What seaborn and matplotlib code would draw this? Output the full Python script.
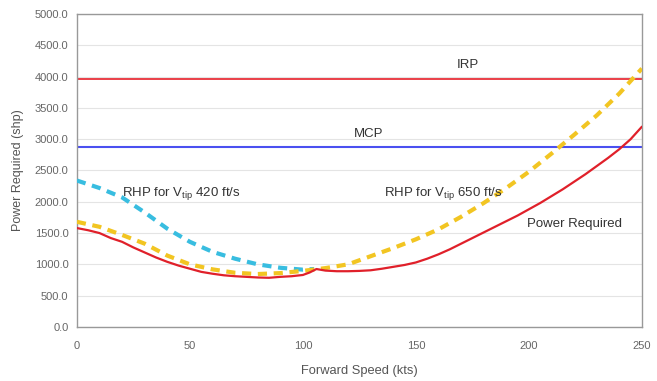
import numpy as np
import pandas as pd
import matplotlib
matplotlib.use('Agg')
import matplotlib.pyplot as plt
import seaborn as sns

# 数据
speed_pr = [0, 5, 10, 15, 20, 25, 30, 35, 40, 45, 50, 55, 60, 65, 70, 75, 80, 85, 90, 95,
            100, 103, 106, 110, 115, 120, 125, 130, 135, 140, 145, 150, 155, 160, 165, 170,
            175, 180, 185, 190, 195, 200, 205, 210, 215, 220, 225, 230, 235, 240, 245, 250]
power_req = [1580, 1545, 1500, 1420, 1360, 1270, 1190, 1110, 1040, 980, 930, 880, 850, 825,
             810, 800, 790, 785, 800, 810, 830, 870, 925, 900, 890, 890, 895, 905, 930, 960,
             990, 1030, 1090, 1160, 1240, 1330, 1420, 1510, 1600, 1690, 1780, 1880, 1980,
             2090, 2200, 2320, 2440, 2570, 2700, 2840, 3000, 3200]

speed_650 = [0, 10, 20, 30, 40, 50, 60, 70, 80, 90, 100, 110, 120, 130, 140, 150, 160, 170,
             180, 190, 200, 210, 220, 230, 240, 250]
rhp_650 = [1680, 1600, 1470, 1330, 1140, 1000, 920, 865, 845, 860, 895, 940, 1000, 1130,
           1260, 1400, 1560, 1760, 1980, 2220, 2480, 2770, 3070, 3380, 3730, 4130]

speed_420 = [0, 10, 20, 30, 40, 50, 60, 70, 80, 90, 100, 105]
rhp_420 = [2340, 2220, 2070, 1830, 1570, 1360, 1200, 1090, 1000, 945, 915, 925]

irp = 3960
mcp = 2880

sns.set_style('white')
plt.rcParams['font.family'] = ['Liberation Sans', 'DejaVu Sans']
plt.rcParams['mathtext.default'] = 'regular'

fig = plt.figure(figsize=(6.57, 3.81), dpi=100)
ax = fig.add_axes([0.117, 0.142, 0.86, 0.821])

ax.axhline(irp, color='#e8303a', linewidth=1.3, zorder=2)
ax.axhline(mcp, color='#4a50f0', linewidth=1.5, zorder=2)

sns.lineplot(x=speed_420, y=rhp_420, ax=ax, color='#38bde0', linewidth=3,
             linestyle=(0, (2.2, 1.6)), zorder=3)
sns.lineplot(x=speed_650, y=rhp_650, ax=ax, color='#f2c522', linewidth=3,
             linestyle=(0, (2.2, 1.6)), zorder=3)
sns.lineplot(x=speed_pr, y=power_req, ax=ax, color='#e0202a', linewidth=1.6, zorder=4)

lab = dict(fontsize=9.5, color='#333333')
ax.text(173, 4090, 'IRP', ha='center', va='bottom', **lab)
ax.text(129, 2980, 'MCP', ha='center', va='bottom', **lab)
ax.text(20, 2140, r'RHP for V$_{tip}$ 420 ft/s', va='center', **lab)
ax.text(136, 2140, r'RHP for V$_{tip}$ 650 ft/s', va='center', **lab)
ax.text(199, 1645, 'Power Required', va='center', **lab)

ax.set_xlim(0, 250)
ax.set_ylim(0, 5000)
ax.set_xticks(range(0, 251, 50))
ax.set_yticks(np.arange(0, 5001, 500))
ax.set_yticklabels([f'{v:.1f}' for v in np.arange(0, 5001, 500)])
ax.yaxis.grid(True, color='#e4e4e4', linewidth=0.8)
ax.set_axisbelow(True)

for s in ax.spines.values():
    s.set_color('#999999')
    s.set_linewidth(1.0)
ax.tick_params(axis='both', labelsize=8, colors='#666666', length=2, width=0.8,
               direction='in')
ax.tick_params(axis='x', pad=10)
ax.tick_params(axis='y', length=0, pad=6)

ax.set_xlabel('Forward Speed (kts)', fontsize=9.3, color='#555555', labelpad=10)
ax.set_ylabel('Power Required (shp)', fontsize=9, color='#555555', labelpad=8)

fig.savefig('out.png', dpi=100)
